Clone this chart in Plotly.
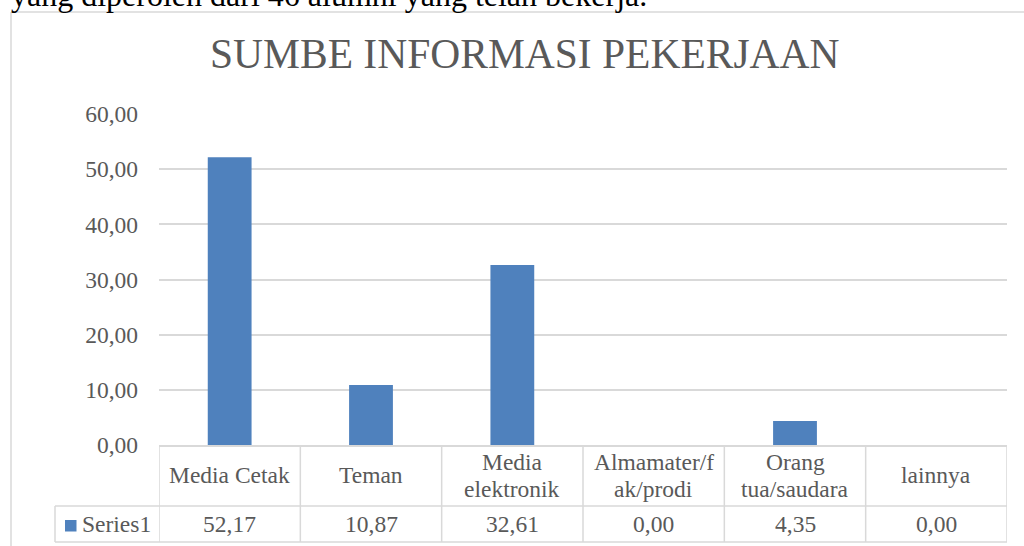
import plotly.graph_objects as go

# ---- data ----
categories = ["Media Cetak", "Teman", "Media elektronik", "Almamater/fak/prodi", "Orang tua/saudara", "lainnya"]
category_labels = ["Media Cetak", "Teman", "Media<br>elektronik", "Almamater/f<br>ak/prodi", "Orang<br>tua/saudara", "lainnya"]
series_name = "Series1"
values = [52.17, 10.87, 32.61, 0.00, 4.35, 0.00]
y_ticks = [0, 10, 20, 30, 40, 50, 60]
title_text = "SUMBE INFORMASI PEKERJAAN"
doc_text = "yang diperoleh dari 46 alumni yang telah bekerja."

# ---- layout geometry (pixels) ----
W, H = 1024, 546
L, R, T, B = 159, 1007, 114, 445
PW, PH = R - L, B - T

def px(x):
    return (x - L) / PW

def py(y):
    return (B - y) / PH

FONT = "Liberation Serif, Times New Roman, serif"
GREY = "#595959"
LINE = "#d9d9d9"
BLUE = "#4f81bd"
FS = 23.5

fig = go.Figure()
fig.add_trace(go.Bar(x=categories, y=values, marker=dict(color=BLUE, line=dict(width=0)),
                     name=series_name, hoverinfo="x+y"))

shapes = []
annotations = []

# frame (left + top border of chart area)
shapes.append(dict(type="line", xref="paper", yref="paper", x0=px(11), x1=px(11), y0=py(12), y1=py(560),
                   line=dict(color=LINE, width=1.5)))
shapes.append(dict(type="line", xref="paper", yref="paper", x0=px(11), x1=px(1040), y0=py(12), y1=py(12),
                   line=dict(color=LINE, width=1.5)))

# data table lines
n = len(categories)
for i in range(n + 1):
    shapes.append(dict(type="line", xref="x", yref="paper", x0=i - 0.5, x1=i - 0.5, y0=0, y1=py(542),
                       line=dict(color=LINE, width=1.5)))
shapes.append(dict(type="line", xref="paper", yref="paper", x0=px(55), x1=px(55), y0=py(506), y1=py(542),
                   line=dict(color=LINE, width=1.5)))
for yy in (506, 542):
    shapes.append(dict(type="line", xref="paper", yref="paper", x0=px(55), x1=1, y0=py(yy), y1=py(yy),
                       line=dict(color=LINE, width=1.5)))
# legend key
shapes.append(dict(type="rect", xref="paper", yref="paper", x0=px(65), x1=px(76.5), y0=py(531.5), y1=py(520),
                   fillcolor=BLUE, line=dict(width=0)))

# header row & values row
for cat, lab, v in zip(categories, category_labels, values):
    lines = lab.split("<br>")
    if len(lines) == 1:
        centers = [475]
    else:
        centers = [462, 489]
    for line_text, cy in zip(lines, centers):
        annotations.append(dict(x=cat, xref="x", y=py(cy), yref="paper", text=line_text, showarrow=False,
                                xanchor="center", yanchor="middle", font=dict(family=FONT, size=FS, color=GREY)))
    annotations.append(dict(x=cat, xref="x", y=py(524), yref="paper", text=f"{v:.2f}".replace(".", ","),
                            showarrow=False, xanchor="center", yanchor="middle",
                            font=dict(family=FONT, size=FS, color=GREY)))
annotations.append(dict(x=px(80), xref="paper", y=py(524), yref="paper", text=series_name, showarrow=False,
                        xanchor="left", yanchor="middle", font=dict(family=FONT, size=FS, color=GREY)))

# title
annotations.append(dict(x=px(525), xref="paper", y=py(54), yref="paper", text=title_text, showarrow=False,
                        xanchor="center", yanchor="middle", font=dict(family=FONT, size=41.5, color=GREY)))
# document text cut at top
annotations.append(dict(x=px(9), xref="paper", y=py(-5), yref="paper", text=doc_text, showarrow=False,
                        xanchor="left", yanchor="middle", font=dict(family=FONT, size=32, color="#000000")))

fig.update_layout(
    width=W, height=H,
    margin=dict(l=L, r=W - R, t=T, b=H - B, pad=0),
    paper_bgcolor="white", plot_bgcolor="white",
    separators=",.",
    bargap=0.69,
    showlegend=False,
    shapes=shapes,
    annotations=annotations,
    xaxis=dict(range=[-0.5, n - 0.5], showticklabels=False, showgrid=False, zeroline=False,
               showline=True, linecolor=LINE, linewidth=1.5, ticks=""),
    yaxis=dict(range=[0, 60], tickvals=y_ticks, tickformat=".2f", showgrid=True, gridcolor=LINE, gridwidth=1.5,
               zeroline=False, showline=False, ticks="", ticklabelstandoff=20,
               tickfont=dict(family=FONT, size=FS, color=GREY)),
)

fig.write_html("out.html", config={"displayModeBar": False},
               post_script="document.body.style.margin='0';document.body.style.overflow='hidden';")
